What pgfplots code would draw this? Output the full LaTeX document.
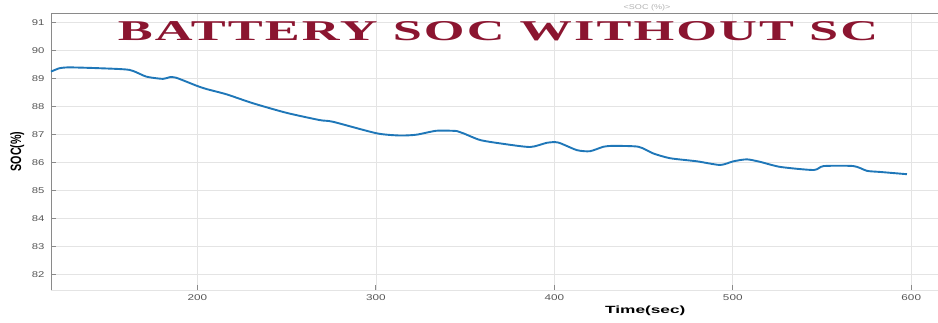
\documentclass[border=0pt]{standalone}
\usepackage{fontspec}
\setmainfont{Liberation Sans}
\newfontfamily\titlefont[LetterSpace=4]{Liberation Serif}
\usepackage{pgfplots}
\pgfplotsset{compat=1.18}
\usepackage{graphicx}

\definecolor{socblue}{HTML}{1F77B8}
\definecolor{titlered}{HTML}{8B1530}
\definecolor{gridgray}{HTML}{E4E4E4}
\definecolor{axisgray}{HTML}{8A8A8A}
\definecolor{ticktext}{HTML}{555555}

\begin{document}
\begin{tikzpicture}[x=1bp,y=1bp]
\useasboundingbox (0,0) rectangle (938,322);
\begin{axis}[
  at={(51bp,32bp)}, anchor=south west,
  scale only axis,
  width=887bp, height=277bp,
  xmin=118, xmax=615,
  ymin=81.45, ymax=91.33,
  xtick={200,300,400,500,600},
  ytick={82,83,84,85,86,87,88,89,90,91},
  grid=major,
  major grid style={gridgray, line width=0.6bp},
  tick align=inside,
  major tick length=5bp,
  tick style={axisgray, line width=0.8bp},
  axis line style={axisgray, line width=0.9bp},
  separate axis lines,
  x axis line style={draw=gridgray},
  axis x line*=bottom,
  axis y line*=left,
  ticklabel style={font=\fontsize{8.4}{9}\selectfont, text=ticktext},
  xticklabel={\scalebox{1.4}[1]{\pgfmathprintnumber{\tick}}},
  yticklabel={\scalebox{1.35}[1]{\pgfmathprintnumber{\tick}}},
  /pgf/number format/assume math mode=true,
  xticklabel style={yshift=-1bp},
  yticklabel style={xshift=-3bp},
  xlabel={\scalebox{1.65}[1]{\bfseries Time(sec)}},
  ylabel={\scalebox{1}[1.4]{\bfseries SOC(\%)}},
  xlabel style={font=\fontsize{10.5}{11}\selectfont,
    at={(axis description cs:0.67,-0.075)}, anchor=center},
  ylabel style={font=\fontsize{10.75}{11}\selectfont,
    at={(axis description cs:-0.038,0.5)}, anchor=center},
  clip=false,
]
% top frame line
\draw[axisgray, line width=0.9bp] (rel axis cs:0,1) -- (rel axis cs:1,1);

\addplot[socblue, line width=1.9bp, smooth, tension=0.4] coordinates {
(118,89.24) (122.8,89.36) (128.4,89.39) (145.2,89.36) (162,89.30)
(171.4,89.06) (180.7,88.98) (184.5,89.04) (188.2,89.02) (199.4,88.74)
(205,88.62) (216.3,88.43) (231.2,88.11) (249.9,87.77) (268.6,87.51)
(276,87.45) (300.4,87.04) (313.5,86.96) (322.8,86.99) (334,87.13)
(345.3,87.12) (349,87.04) (358.4,86.80) (369.6,86.68) (386.4,86.55)
(395.8,86.70) (402.2,86.71) (412.6,86.44) (420,86.40) (427.5,86.56)
(433.1,86.59) (447.1,86.56) (455.5,86.32) (464.9,86.15) (479.9,86.04)
(492.9,85.91) (500.4,86.04) (507.9,86.11) (515.4,86.02) (526.6,85.84)
(545.3,85.73) (550.9,85.87) (567.7,85.87) (575.2,85.70) (582.7,85.66)
(597.6,85.58)
};

\node[text=titlered, anchor=center] at (axis description cs:0.504,0.933)
  {\resizebox{760bp}{19bp}{\titlefont\bfseries BATTERY SOC WITHOUT SC}};
\node[text=black!30, font=\fontsize{7}{8}\selectfont, anchor=center]
  at (axis description cs:0.672,1.018) {\scalebox{1.3}[1]{<SOC (\%)>}};
\end{axis}
\end{tikzpicture}
\end{document}
